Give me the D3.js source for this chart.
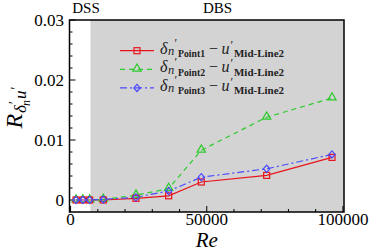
<!DOCTYPE html>
<html><head><meta charset="utf-8">
<script src="https://cdn.jsdelivr.net/npm/d3@7"></script>
<style>body{margin:0;background:#fff}svg{display:block}svg text{font-family:"Liberation Serif",serif}</style>
</head><body><svg id="c" width="374" height="250"></svg>
<script>
const reValues = [2000, 4500, 7000, 12000, 24000, 36000, 48000, 72000, 96000];
const point1 = [0, 0, 0, 0, 0.00028, 0.0007, 0.0030, 0.0041, 0.0071];
const point2 = [0, 0, 0, 0.0001, 0.0008, 0.0019, 0.0083, 0.0138, 0.0170];
const point3 = [0, 0, 0, 0.0001, 0.00045, 0.0015, 0.0038, 0.0052, 0.0076];
const xTicks = [0, 50000, 100000];
const yTicks = [0, 0.01, 0.02, 0.03];
const dbsStart = 7300;
const seriesNames = ["Point1", "Point2", "Point3"];

const svg = d3.select("#c");
const L = 69.5, R = 344, T = 20, B = 212;
const x = d3.scaleLinear().domain([-400, 100400]).range([L, R]);
const y = d3.scaleLinear().domain([-0.002, 0.03]).range([B, T]);

svg.append("rect").attr("x", x(dbsStart)).attr("y", T).attr("width", R - x(dbsStart)).attr("height", B - T).attr("fill", "#d3d3d3");

const ax = svg.append("g").attr("stroke", "#000").attr("stroke-width", 1);
d3.range(0, 100001, 10000).forEach(v => {
  const len = xTicks.includes(v) ? 6 : 3;
  ax.append("line").attr("x1", x(v)).attr("x2", x(v)).attr("y1", B).attr("y2", B - len);
});
d3.range(0, 0.0301, 0.002).forEach(v => {
  const major = yTicks.some(t => Math.abs(t - v) < 1e-9);
  ax.append("line").attr("x1", L).attr("x2", L + (major ? 6 : 3)).attr("y1", y(v)).attr("y2", y(v));
});

svg.append("rect").attr("x", L).attr("y", T).attr("width", R - L).attr("height", B - T).attr("fill", "none").attr("stroke", "#000").attr("stroke-width", 1.5);

function txt(xx, yy, s, size, anchor) {
  return svg.append("text").attr("x", xx).attr("y", yy).attr("text-anchor", anchor || "middle").attr("font-size", size).text(s);
}
xTicks.forEach(v => txt(x(v), 224.5, v, 17));
yTicks.forEach(v => txt(64, y(v) + 6, v === 0 ? "0" : v.toFixed(2), 17, "end"));

txt(x(50000), 246.5, "Re", 21).attr("font-style", "italic");
const yl = svg.append("text").attr("transform", "translate(22,108) rotate(-90)").attr("text-anchor", "middle").attr("font-style", "italic");
yl.append("tspan").attr("font-size", 24).text("R");
yl.append("tspan").attr("font-size", 17).attr("dx", 1).attr("dy", 4).text("δ");
yl.append("tspan").attr("font-size", 14).attr("dy", -7).text("′");
yl.append("tspan").attr("font-size", 12).attr("dx", -4).attr("dy", 11).text("n");
yl.append("tspan").attr("font-size", 17).attr("dx", 1).attr("dy", -4).text("u");
yl.append("tspan").attr("font-size", 14).attr("dy", -5).text("′");

txt(86, 13, "DSS", 15);
txt(217.5, 13, "DBS", 15);

const series = [
  {vals: point1, color: "#e8141c", dash: null, marker: "square"},
  {vals: point2, color: "#2ccc2c", dash: "5,4", marker: "triangle"},
  {vals: point3, color: "#4a4aff", dash: "7,3,2,3", marker: "diamond"}
];
const line = d3.line().x((d, i) => x(reValues[i])).y(d => y(d));
function marker(g, type, cx, cy, color) {
  if (type === "square") g.append("rect").attr("x", cx - 3).attr("y", cy - 3).attr("width", 6).attr("height", 6).attr("fill", "none").attr("stroke", color).attr("stroke-width", 1.2);
  else if (type === "triangle") g.append("path").attr("d", d3.symbol(d3.symbolTriangle, 30)()).attr("transform", `translate(${cx},${cy - 0.5})`).attr("fill", "none").attr("stroke", color).attr("stroke-width", 1.2);
  else g.append("path").attr("d", `M0,-3.6L3.2,0L0,3.6L-3.2,0Z`).attr("transform", `translate(${cx},${cy})`).attr("fill", "none").attr("stroke", color).attr("stroke-width", 1.2);
}
series.forEach(s => {
  svg.append("path").datum(s.vals).attr("d", line).attr("fill", "none").attr("stroke", s.color).attr("stroke-width", 1.2).attr("stroke-dasharray", s.dash);
});
[1, 0, 2].forEach(k => {
  const s = series[k];
  const g = svg.append("g");
  s.vals.forEach((v, i) => marker(g, s.marker, x(reValues[i]), y(v), s.color));
});

const lg = svg.append("g");
series.forEach((s, k) => {
  const yy = 50.7 + k * 18.6;
  const by = yy + 3;
  lg.append("line").attr("x1", 120).attr("x2", 154).attr("y1", yy).attr("y2", yy).attr("stroke", s.color).attr("stroke-width", 1.2).attr("stroke-dasharray", s.dash);
  marker(lg, s.marker, 137, yy, s.color);
  const t = lg.append("text").attr("fill", "#222");
  t.append("tspan").attr("x", 160).attr("y", by).attr("font-size", 16).attr("font-style", "italic").text("δ");
  t.append("tspan").attr("x", 168).attr("y", by + 1.5).attr("font-size", 12.5).attr("font-style", "italic").text("n");
  t.append("tspan").attr("x", 174.5).attr("y", by - 6.5).attr("font-size", 12).text("′");
  t.append("tspan").attr("x", 178).attr("y", by + 3.5).attr("font-size", 9.5).attr("font-weight", "bold").attr("textLength", 27).attr("lengthAdjust", "spacingAndGlyphs").text(seriesNames[k]);
  t.append("tspan").attr("x", 209).attr("y", by).attr("font-size", 16).text("−");
  t.append("tspan").attr("x", 221.5).attr("y", by).attr("font-size", 16).attr("font-style", "italic").text("u");
  t.append("tspan").attr("x", 230.5).attr("y", by - 5).attr("font-size", 12).text("′");
  t.append("tspan").attr("x", 234).attr("y", by + 3.5).attr("font-size", 10).attr("font-weight", "bold").attr("textLength", 50).attr("lengthAdjust", "spacingAndGlyphs").text("Mid-Line2");
});
</script></body></html>
